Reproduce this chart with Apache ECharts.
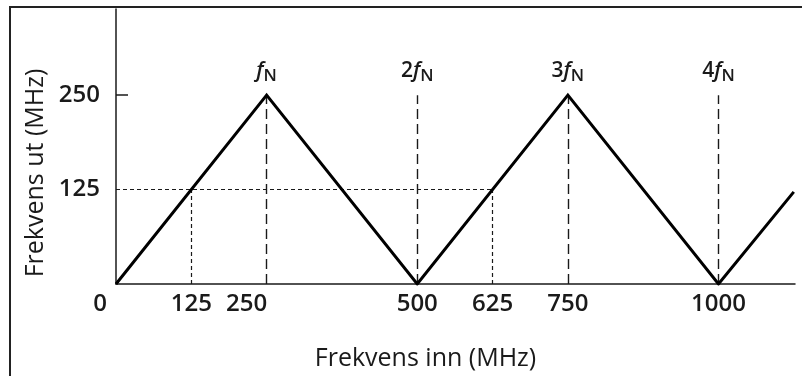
<!DOCTYPE html>
<html>
<head>
<meta charset="utf-8">
<script src="https://cdn.jsdelivr.net/npm/echarts@6/dist/echarts.min.js"></script>
<style>
  html, body { margin: 0; padding: 0; background: #fff; }
  #chart { width: 802px; height: 376px; }
</style>
</head>
<body>
<div id="chart"></div>
<script>
// Aliasing: output frequency vs. input frequency for a 500 MHz sampler (fN = 250 MHz)
const inFreq = [0, 250, 500, 750, 1000, 1125];
const outFreq = [0, 250, 0, 250, 0, 122];

const xTickValues = [0, 125, 250, 500, 625, 750, 1000];
const yTickValues = [125, 250];

// Multiples of the Nyquist frequency
const harmonicFreq = [250, 500, 750, 1000];
const harmonicMult = ['', '2', '3', '4'];
const nyquistOut = 250;

// Example: 125 MHz and 625 MHz both map to 125 MHz
const aliasIn = [125, 625];
const aliasOut = 125;

const xMax = 1127;
const yMax = 364;

const ink = '#1a1a1a';
const tickFont = '"Open Sans", sans-serif';
const nameFont = '"Open Sans", sans-serif';
const tickSize = 24;
const nameSize = 25;

// Horizontal nudges for a few x tick labels (px; negative = left)
const labelShift = { 0: -16, 250: -20 };

const xRich = {};
Object.keys(labelShift).forEach(k => {
  const s = labelShift[k];
  xRich['s' + k] = {
    fontFamily: tickFont, fontWeight: 600, fontSize: tickSize, color: ink,
    padding: s < 0 ? [0, -2 * s, 0, 0] : [0, 0, 0, 2 * s]
  };
});

const harmonicRich = {
  n: { fontFamily: tickFont, fontWeight: 600, fontSize: 21, color: ink },
  f: { fontFamily: tickFont, fontWeight: 600, fontStyle: 'italic', fontSize: 21, color: ink },
  s: { fontFamily: tickFont, fontWeight: 600, fontSize: 17, color: ink, padding: [12, 0, 0, 0] }
};

const longDash = { color: ink, width: 1.4, type: [10, 5] };
const shortDash = { color: ink, width: 1.2, type: [4, 3] };

const markLines = [];
harmonicFreq.forEach((x, i) => {
  markLines.push([
    {
      coord: [x, 0],
      lineStyle: longDash,
      label: {
        show: true,
        position: 'end',
        distance: 10,
        formatter: (harmonicMult[i] ? '{n|' + harmonicMult[i] + '}' : '') + '{f|f}{s|N}',
        rich: harmonicRich
      }
    },
    { coord: [x, nyquistOut] }
  ]);
});
// Dotted guides for the 125 MHz example
markLines.push([{ coord: [0, aliasOut], lineStyle: shortDash, label: { show: false } }, { coord: [aliasIn[1], aliasOut] }]);
aliasIn.forEach(x => {
  markLines.push([{ coord: [x, 0], lineStyle: shortDash, label: { show: false } }, { coord: [x, aliasOut] }]);
});

const chart = echarts.init(document.getElementById('chart'), null, { renderer: 'canvas' });

chart.setOption({
  animation: false,
  backgroundColor: '#fff',
  grid: { left: 116, right: 7, top: 9, bottom: 92, containLabel: false, outerBoundsMode: 'none' },
  graphic: [{
    type: 'rect',
    z: -1,
    shape: { x: 10, y: 7, width: 900, height: 500 },
    style: { fill: 'none', stroke: '#222', lineWidth: 2 }
  }],
  xAxis: {
    type: 'value',
    min: 0,
    max: xMax,
    name: 'Frekvens inn (MHz)',
    nameLocation: 'middle',
    nameGap: 62,
    nameTextStyle: { fontFamily: nameFont, fontSize: nameSize, color: ink, padding: [0, 60, 0, 0] },
    axisLine: { show: true, onZero: false, lineStyle: { color: ink, width: 1.5 } },
    axisTick: { show: false },
    splitLine: { show: false },
    axisLabel: {
      customValues: xTickValues,
      margin: 8,
      fontFamily: tickFont,
      fontWeight: 600,
      fontSize: tickSize,
      color: ink,
      formatter: v => (labelShift[v] !== undefined ? '{s' + v + '|' + v + '}' : String(v)),
      rich: xRich
    }
  },
  yAxis: {
    type: 'value',
    min: 0,
    max: yMax,
    name: 'Frekvens ut (MHz)',
    nameLocation: 'middle',
    nameRotate: 90,
    nameGap: 62,
    nameTextStyle: { fontFamily: nameFont, fontSize: nameSize, color: ink, padding: [0, 53, 0, 0] },
    axisLine: { show: true, onZero: false, lineStyle: { color: ink, width: 1.5 } },
    axisTick: { show: true, inside: true, length: 12, customValues: [nyquistOut], lineStyle: { color: ink, width: 1.5 } },
    splitLine: { show: false },
    axisLabel: {
      customValues: yTickValues,
      margin: 16,
      fontFamily: tickFont,
      fontWeight: 600,
      fontSize: tickSize,
      color: ink
    }
  },
  series: [{
    type: 'line',
    data: inFreq.map((x, i) => [x, outFreq[i]]),
    symbol: 'none',
    z: 3,
    lineStyle: { color: '#000', width: 3, join: 'miter' },
    markLine: {
      silent: true,
      symbol: 'none',
      z: 2,
      animation: false,
      data: markLines
    }
  }]
});
</script>
</body>
</html>
